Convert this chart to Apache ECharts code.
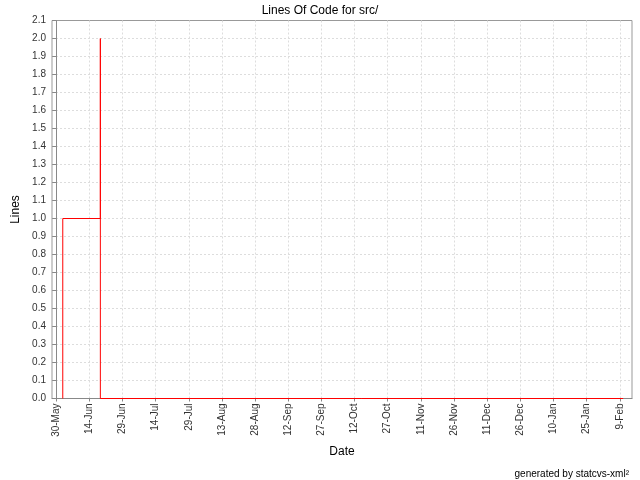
<!DOCTYPE html>
<html>
<head>
<meta charset="utf-8">
<script src="https://cdn.jsdelivr.net/npm/echarts@6/dist/echarts.min.js"></script>
<style>
html,body{margin:0;padding:0;background:#fff;}
#c{width:640px;height:480px;}
</style>
</head>
<body>
<div id="c"></div>
<script>
// ---- data ----
var pointDates = ['2004-06-02', '2004-06-02', '2004-06-19', '2004-06-19', '2004-06-19', '2005-02-10T12'];
var pointLines = [0, 1, 1, 2, 0, 0];
var tickDates = ['2004-05-30','2004-06-14','2004-06-29','2004-07-14','2004-07-29','2004-08-13','2004-08-28',
  '2004-09-12','2004-09-27','2004-10-12','2004-10-27','2004-11-11','2004-11-26','2004-12-11','2004-12-26',
  '2005-01-10','2005-01-25','2005-02-09'];
var monthNames = ['Jan','Feb','Mar','Apr','May','Jun','Jul','Aug','Sep','Oct','Nov','Dec'];
var axisMinDate = '2004-05-28T03';
var axisMaxDate = '2005-02-14T12';
var epochDate = '2004-05-30';

var DAY = 86400000;
function ts(s) {
  var p = s.split('T');
  var d = p[0].split('-');
  var h = p.length > 1 ? parseInt(p[1], 10) : 0;
  return Date.UTC(+d[0], +d[1] - 1, +d[2], h);
}
var epoch = ts(epochDate);
function dayNum(s) { return (ts(s) - epoch) / DAY; }
var seriesData = pointDates.map(function (d, i) { return [dayNum(d), pointLines[i]]; });
var tickValues = tickDates.map(dayNum);

var chart = echarts.init(document.getElementById('c'), null, {renderer: 'canvas'});
var font = 'Liberation Sans';
chart.setOption({
  animation: false,
  backgroundColor: '#fff',
  title: [{
    text: 'Lines Of Code for src/',
    left: 'center', top: 0,
    textStyle: {fontFamily: font, fontSize: 12, fontWeight: 'normal', color: '#000'}
  }, {
    text: 'generated by statcvs-xml\u00b2',
    right: 6, top: 464,
    textStyle: {fontFamily: font, fontSize: 10, fontWeight: 'normal', color: '#000'}
  }],
  grid: {left: 52, right: 8, top: 20.5, bottom: 81.5, show: true, borderColor: '#999', borderWidth: 1, backgroundColor: '#fff'},
  xAxis: {
    type: 'value',
    min: dayNum(axisMinDate), max: dayNum(axisMaxDate),
    name: 'Date', nameLocation: 'middle', nameGap: 47,
    nameTextStyle: {fontFamily: font, fontSize: 12, color: '#000'},
    axisLine: {show: true, onZero: false, lineStyle: {color: '#888'}},
    axisTick: {show: true, length: 3, customValues: tickValues, lineStyle: {color: '#888'}},
    axisLabel: {
      customValues: tickValues,
      rotate: 90, margin: 5,
      fontFamily: font, fontSize: 10, color: '#333',
      formatter: function (v) { var d = new Date(epoch + v * DAY); return d.getUTCDate() + '-' + monthNames[d.getUTCMonth()]; }
    },
    splitLine: {show: true, lineStyle: {color: '#ddd', type: [2, 2]}}
  },
  yAxis: {
    type: 'value', min: 0, max: 2.1, interval: 0.1,
    name: 'Lines', nameLocation: 'middle', nameGap: 27, nameRotate: 90,
    nameTextStyle: {fontFamily: font, fontSize: 12, color: '#000'},
    axisLine: {show: true, lineStyle: {color: '#888'}},
    axisTick: {show: true, length: 4, lineStyle: {color: '#888'}},
    axisLabel: {margin: 6, fontFamily: font, fontSize: 10, color: '#333', formatter: function (v) { return v.toFixed(1); }},
    splitLine: {show: true, showMaxLine: false, showMinLine: false, lineStyle: {color: '#ddd', type: [2, 2]}}
  },
  series: [{
    type: 'line',
    data: seriesData,
    showSymbol: false,
    symbol: 'none',
    lineStyle: {color: '#ff0000', width: 1},
    z: 5
  }]
});
</script>
</body>
</html>
